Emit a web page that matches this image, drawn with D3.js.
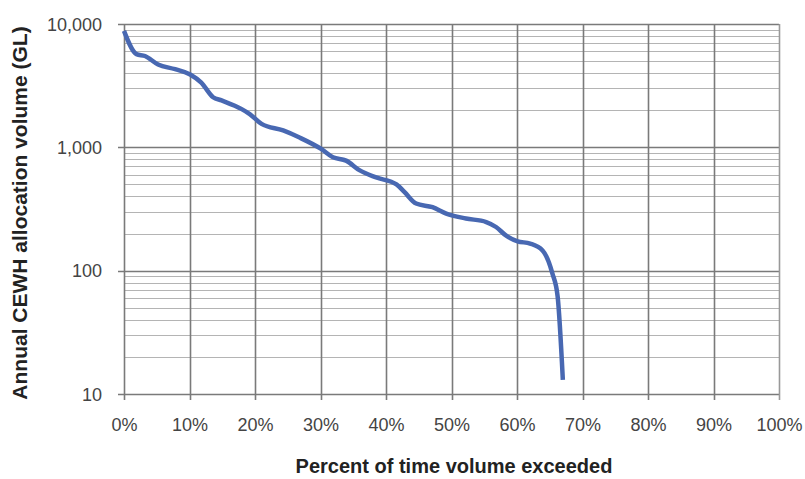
<!DOCTYPE html>
<html>
<head>
<meta charset="utf-8">
<script src="https://cdn.jsdelivr.net/npm/d3@7"></script>
<style>
  html, body { margin: 0; padding: 0; background: #fff; }
  svg { display: block; }
</style>
</head>
<body>
<svg id="chart" width="805" height="479"></svg>
<script>
// Percent of time volume exceeded (%)
const percentExceeded = [0, 1.9, 3.2, 5.2, 7.8, 10.1, 11.8, 13.6, 14.9, 17.9, 19.2, 21.0, 24.3, 26.8, 30.1, 31.9, 33.9, 36.0, 38.5, 41.6, 42.8, 44.6, 47.1, 49.2, 52.2, 55.3, 56.8, 58.3, 60.1, 62.0, 63.9, 65.4, 66.2, 67.0];
// Annual CEWH allocation volume (GL)
const allocationGL = [8800, 5700, 5500, 4700, 4300, 3900, 3350, 2550, 2400, 2050, 1860, 1550, 1370, 1200, 970, 830, 780, 650, 570, 500, 435, 350, 327, 290, 265, 248, 226, 193, 173, 166, 146, 95, 62, 13];
const xTickValues = [0, 10, 20, 30, 40, 50, 60, 70, 80, 90, 100];
const yTickValues = [10, 100, 1000, 10000];

(function () {
const svg = d3.select("#chart");
const mLeft = 124, mRight = 779, mTop = 24, mBottom = 394;

const x = d3.scaleLinear().domain([0, 100]).range([mLeft, mRight]);
const y = d3.scaleLog().domain([10, 10000]).range([mBottom, mTop]);

// minor horizontal gridlines
const minor = [];
for (let d = 10; d < 10000; d *= 10) for (let k = 2; k <= 9; k++) minor.push(d * k);
svg.append("g").selectAll("line").data(minor).join("line")
  .attr("x1", mLeft).attr("x2", mRight)
  .attr("y1", d => Math.round(y(d)) + 0.5).attr("y2", d => Math.round(y(d)) + 0.5)
  .attr("stroke", "#b4b4b4").attr("stroke-width", 1.2);

// major horizontal gridlines
svg.append("g").selectAll("line").data(yTickValues).join("line")
  .attr("x1", mLeft - 6).attr("x2", mRight)
  .attr("y1", d => Math.round(y(d)) + 0.5).attr("y2", d => Math.round(y(d)) + 0.5)
  .attr("stroke", "#7a7a7a").attr("stroke-width", 1.6);

// vertical gridlines
svg.append("g").selectAll("line").data(xTickValues).join("line")
  .attr("x1", d => Math.round(x(d)) + 0.5).attr("x2", d => Math.round(x(d)) + 0.5)
  .attr("y1", mTop).attr("y2", mBottom + 6)
  .attr("stroke", d => d === 100 ? "#999" : "#7a7a7a").attr("stroke-width", 1.6);

// axes labels
const yAxis = d3.axisLeft(y).tickValues(yTickValues).tickSize(0).tickPadding(22)
  .tickFormat(d3.format(","));
const gy = svg.append("g").attr("transform", `translate(${mLeft},0)`).call(yAxis);
gy.select(".domain").remove();
gy.selectAll("text").attr("font-family", "Liberation Sans, Arial, sans-serif")
  .attr("font-size", 18).attr("fill", "#444").attr("dy", "0.35em");

const xAxis = d3.axisBottom(x).tickValues(xTickValues).tickSize(0).tickPadding(24)
  .tickFormat(d => d + "%");
const gx = svg.append("g").attr("transform", `translate(0,${mBottom})`).call(xAxis);
gx.select(".domain").remove();
gx.selectAll("text").attr("font-family", "Liberation Sans, Arial, sans-serif")
  .attr("font-size", 18).attr("fill", "#444");

// data line
const line = d3.line().x((d, i) => x(percentExceeded[i])).y(d => y(d)).curve(d3.curveMonotoneX);
svg.append("path").datum(allocationGL)
  .attr("d", line)
  .attr("fill", "none").attr("stroke", "#4868b2").attr("stroke-width", 4.5)
  .attr("stroke-linejoin", "round").attr("stroke-linecap", "butt");

// titles
svg.append("text").attr("x", 454).attr("y", 473).attr("text-anchor", "middle")
  .attr("font-family", "Liberation Sans, Arial, sans-serif").attr("font-weight", "bold")
  .attr("font-size", 20).attr("fill", "#222")
  .text("Percent of time volume exceeded");

svg.append("text").attr("transform", "translate(27,213) rotate(-90)").attr("text-anchor", "middle")
  .attr("font-family", "Liberation Sans, Arial, sans-serif").attr("font-weight", "bold")
  .attr("font-size", 21).attr("fill", "#222")
  .text("Annual CEWH allocation volume (GL)");
})();
</script>
</body>
</html>
